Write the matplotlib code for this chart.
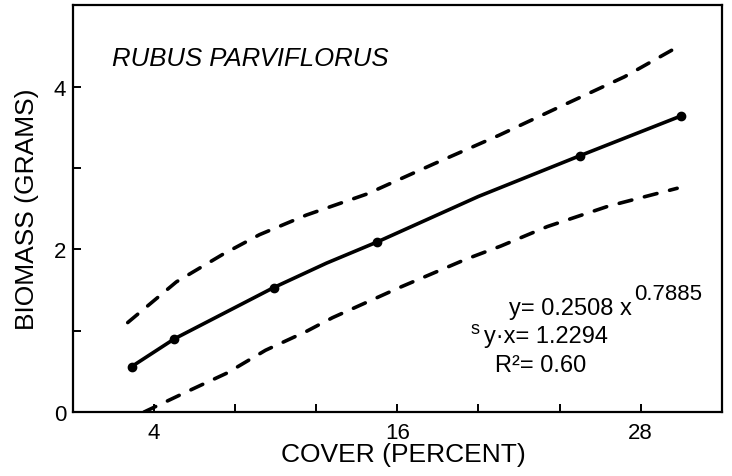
import matplotlib
matplotlib.use("Agg")
import matplotlib.pyplot as plt

plt.rcParams['font.family'] = ['Liberation Sans', 'DejaVu Sans']

# =========================
# Data
# =========================

cover_pts = [2.9, 5.0, 9.9, 15.0, 25.0, 30.0]
biomass_pts = [0.56, 0.90, 1.53, 2.09, 3.15, 3.64]

fit_x = [2.9, 5.0, 9.9, 12.5, 15.0, 20.0, 25.0, 30.0]
fit_y = [0.56, 0.90, 1.53, 1.83, 2.09, 2.65, 3.15, 3.64]

upper_x = [2.7, 5.1, 7.4, 9.2, 11.5, 14.5, 17.8, 21.0, 24.0, 27.2, 29.7]
upper_y = [1.10, 1.60, 1.94, 2.18, 2.42, 2.68, 3.05, 3.40, 3.75, 4.12, 4.47]

lower_x = [3.5, 5.7, 7.6, 9.5, 11.5, 12.8, 16.1, 19.4, 21.1, 23.4, 26.4, 29.8]
lower_y = [0.00, 0.26, 0.48, 0.76, 0.99, 1.16, 1.53, 1.88, 2.04, 2.28, 2.53, 2.75]

x_ticks = [4, 8, 12, 16, 20, 24, 28]
x_labels = ["4", "", "", "16", "", "", "28"]
y_ticks = [0, 1, 2, 3, 4]
y_labels = ["0", "", "2", "", "4"]


# =========================
# Plot
# =========================

fig = plt.figure(figsize=(7.32, 4.77), dpi=100)
ax = fig.add_axes([0.0997, 0.134, 0.8863, 0.853])

ax.plot(fit_x, fit_y, color="black", lw=2.6, solid_capstyle="round",
        solid_joinstyle="round")
ax.plot(cover_pts, biomass_pts, "o", color="black", ms=6)

for xs, ys in [(upper_x, upper_y), (lower_x, lower_y)]:
    ln, = ax.plot(xs, ys, color="black", lw=2.6, dash_capstyle="round")
    ln.set_dashes((3.6, 3.6))

ax.set_xlim(0, 32)
ax.set_ylim(0, 5)
ax.set_xticks(x_ticks)
ax.set_xticklabels(x_labels)
ax.set_yticks(y_ticks)
ax.set_yticklabels(y_labels)
ax.tick_params(direction="in", length=6, width=1.4, labelsize=16, pad=5)
ax.tick_params(axis="x", pad=7)

for s in ax.spines.values():
    s.set_linewidth(1.6)

ax.set_xlabel("COVER (PERCENT)", fontsize=19, va="center")
ax.set_ylabel("BIOMASS (GRAMS)", fontsize=19, va="center")
ax.xaxis.set_label_coords(0.51, -0.103)
ax.yaxis.set_label_coords(-0.071, 0.5)

ax.text(1.92, 4.27, "RUBUS PARVIFLORUS", fontsize=18.5, style="italic")

ax.text(21.5, 1.20, "y= 0.2508 x", fontsize=17)
ax.text(27.7, 1.39, "0.7885", fontsize=16)
ax.text(19.6, 0.97, "s", fontsize=13)
ax.text(20.25, 0.86, "y\u00b7x= 1.2294", fontsize=17)
ax.text(20.8, 0.50, "R\u00b2= 0.60", fontsize=17)

plt.savefig("out.png", dpi=100)
plt.close()
